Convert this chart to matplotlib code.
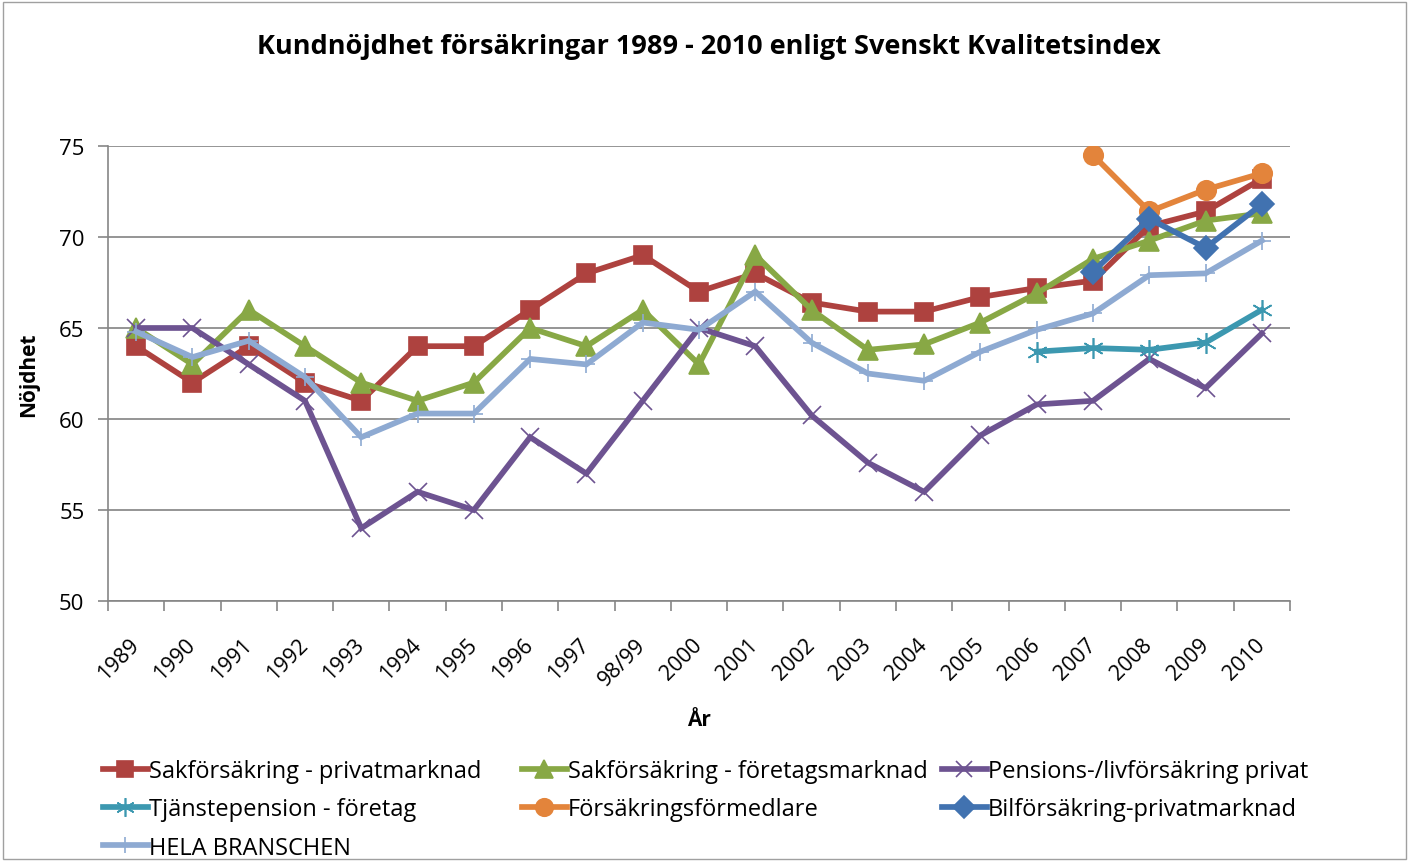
import matplotlib.pyplot as plt
from matplotlib.patches import Rectangle

plt.rcParams['font.family'] = ['Open Sans', 'DejaVu Sans']

years = ['1989', '1990', '1991', '1992', '1993', '1994', '1995', '1996', '1997',
         '98/99', '2000', '2001', '2002', '2003', '2004', '2005', '2006', '2007',
         '2008', '2009', '2010']

sak_privat = [64, 62, 64, 62, 61, 64, 64, 66, 68, 69, 67, 68, 66.4, 65.9, 65.9,
              66.7, 67.2, 67.6, 70.6, 71.4, 73.2]
sak_foretag = [65, 63, 66, 64, 62, 61, 62, 65, 64, 66, 63, 69, 66, 63.8, 64.1,
               65.3, 66.9, 68.8, 69.8, 70.9, 71.3]
pension_liv = [65, 65, 63, 61, 54, 56, 55, 59, 57, 61, 65, 64, 60.2, 57.6, 56,
               59.1, 60.8, 61, 63.3, 61.7, 64.7]
tjanstepension = [None] * 16 + [63.7, 63.9, 63.8, 64.2, 66.0]
formedlare = [None] * 17 + [74.5, 71.4, 72.6, 73.5]
bil_privat = [None] * 17 + [68.1, 71.0, 69.4, 71.8]
hela = [64.8, 63.4, 64.3, 62.3, 59.0, 60.3, 60.3, 63.3, 63.0, 65.3, 64.9, 67.0,
        64.2, 62.5, 62.1, 63.7, 64.9, 65.8, 67.9, 68.0, 69.8]

series = [
    ('Sakförsäkring - privatmarknad', sak_privat, '#AE423F', 's', 13.5),
    ('Sakförsäkring - företagsmarknad', sak_foretag, '#88A845', '^', 14.5),
    ('Pensions-/livförsäkring privat', pension_liv, '#6D5391', 'x', 13.5),
    ('Tjänstepension - företag', tjanstepension, '#3C98B0', (6, 2, 0), 15),
    ('Försäkringsförmedlare', formedlare, '#E3843B', 'o', 14),
    ('Bilförsäkring-privatmarknad', bil_privat, '#4172B0', 'D', 12),
    ('HELA BRANSCHEN', hela, '#8EAAD2', '+', 13),
]

fig = plt.figure(figsize=(14.1, 8.62), dpi=100)
ax = fig.add_axes([0.0766, 0.3016, 0.8383, 0.5279])

x = list(range(len(years)))
lines = []
for name, vals, color, marker, ms in series:
    xs = [i for i, v in zip(x, vals) if v is not None]
    ys = [v for v in vals if v is not None]
    ln, = ax.plot(xs, ys, color=color, lw=4.1, marker=marker, ms=ms,
                  mec=color, mfc=color, mew=1.2, label=name, solid_joinstyle='miter')
    lines.append(ln)

ax.set_xlim(-0.5, len(years) - 0.5)
ax.set_ylim(50, 75)
ax.set_yticks(range(50, 76, 5))
ax.set_xticks(x)
ax.set_xticklabels(years, rotation=45, ha='right', va='center', rotation_mode='anchor')
ax.set_xticks([i - 0.5 for i in range(len(years) + 1)], minor=True)
ax.tick_params(axis='x', which='major', length=0, labelsize=15.5, pad=29)
ax.tick_params(axis='x', which='minor', length=7, color='#868686', width=1.2)
ax.tick_params(axis='y', length=7, color='#868686', width=1.2, labelsize=16, pad=10)
ax.yaxis.grid(True, color='#8C8C8C', lw=1.3)
ax.set_axisbelow(True)
for s in ['top', 'right']:
    ax.spines[s].set_visible(False)
for s in ['left', 'bottom']:
    ax.spines[s].set_color('#868686')
    ax.spines[s].set_linewidth(1.2)

ax.set_xlabel('År', fontsize=15, fontweight='bold', labelpad=14)
ax.set_ylabel('Nöjdhet', fontsize=15, fontweight='bold', labelpad=14)
fig.text(0.503, 0.945, 'Kundnöjdhet försäkringar 1989 - 2010 enligt Svenskt Kvalitetsindex',
         ha='center', va='center', fontsize=19.5, fontweight='bold')

# legend laid out row by row, one legend per column
cols = [[0, 3, 6], [1, 4], [2, 5]]
col_x = [0.073, 0.370, 0.668]
for idx, cx in zip(cols, col_x):
    fig.legend([lines[i] for i in idx], [series[i][0] for i in idx],
               loc='upper left', bbox_to_anchor=(cx, 0.118), ncol=1,
               frameon=False, fontsize=17, handlelength=1.9, handletextpad=0.05,
               labelspacing=0.6, borderaxespad=0, borderpad=0, markerscale=0.9)

fig.patches.append(Rectangle((0.002, 0.002), 0.995, 0.995, transform=fig.transFigure,
                             fill=False, edgecolor='#A0A0A0', lw=1))

fig.savefig('out.png', dpi=100)
